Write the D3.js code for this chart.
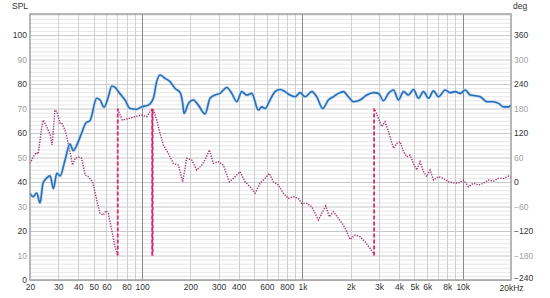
<!DOCTYPE html>
<html>
<head>
<meta charset="utf-8">
<script src="https://cdn.jsdelivr.net/npm/d3@7"></script>
<style>
body { margin: 0; background: #fff; }
text { font-family: "Liberation Sans", Arial, sans-serif; font-size: 8.5px; }
</style>
</head>
<body>
<script>
/* Datos: magnitud (dB) */
const splFreq = [20, 20.9, 22, 23.1, 24.1, 25.4, 26.7, 28, 29.4, 30.8, 33.1, 35.5, 37.3, 39.1, 42, 44.7, 47.3, 52.1, 54.7, 57.9,
  61.6, 64.7, 67.8, 72.9, 78.3, 84.1, 92.6, 99.5, 109.4, 117.6, 123.4, 129.4, 139.1, 149.4, 160.6, 172.5, 179.3, 182.7, 194.4, 208.8,
  224.4, 247.1, 265.5, 285.3, 306.5, 337.5, 362.5, 389.5, 418.5, 449.7, 483.2, 531.3, 557.9, 584.8, 628.4, 675.2, 725.5, 779.5, 837.5, 900,
  967, 1039, 1144, 1229, 1340, 1452, 1561, 1677, 1801, 1936, 2080, 2289, 2520, 2775, 2982, 3204, 3443, 3700, 3975, 4271,
  4589, 4931, 5298, 5693, 6116, 6572, 7062, 7776, 8355, 8977, 9645, 10364, 11135, 11965, 12855, 14154, 15560, 16720, 17965, 19300, 20000];
const splValues = [35.5, 34, 35.5, 31.5, 39.5, 41.6, 42.5, 37.3, 43.6, 42.5, 49, 55.5, 52.8, 55, 60, 64.2, 65, 74.2, 73.5, 70.5,
  74.8, 79.2, 78.6, 76, 73.5, 70, 69.7, 70.7, 71.4, 74.2, 81, 83.7, 82.3, 81, 78.2, 76.6, 72, 68, 72, 73.5,
  71.4, 67.8, 74.2, 75.5, 76.2, 78.6, 76.2, 72.8, 76.9, 75.5, 76.2, 69.4, 70.7, 70, 73.5, 76.9, 77.8, 76.9, 75.5, 74.8,
  76.5, 74.8, 76.9, 74.8, 70, 73.5, 74.8, 76.2, 76.9, 74.8, 72.8, 73.5, 75.5, 76.5, 76.2, 73.2, 76.2, 77.6, 73.5, 76.9,
  75.5, 77.8, 74.2, 76.9, 74.2, 77.2, 74.8, 77.6, 76.5, 76.9, 76.2, 77.6, 75.5, 75.2, 74.8, 72.8, 72.8, 72.1, 70.7, 70.7, 71.4];

/* Datos: fase (grados), null = salto de fase */
const phaseFreq = [20, 21, 21.8, 22.5, 23.7, 24.2, 25.4, 26.7, 27.5, 28.6, 29.4, 30.8, 31.5, 33.1, 33.9, 35.5, 36.9, 38.2, 40, 42,
  44.1, 46.2, 49.2, 52.1, 54.7, 57.3, 59.6, 61.6, 64.7, 67.8, 70.4, 70.5,
  70.6, 75.3, 82.1, 90.4, 99.5, 106.9, 114.9, 116, 117.6, 123.4, 129.4, 135.7, 145.8, 156.7, 168.4, 179.3, 189.9, 204.1,
  219.3, 235.6, 247.1, 262.8, 278.4, 299, 321.3, 350.3, 371, 408.5, 438.8, 471.5, 506.6, 544.4, 584.8, 622.2, 658.9, 707.9, 760.6, 817.3,
  878.2, 943.6, 990.8, 1065, 1144, 1258, 1321, 1399, 1473, 1561, 1677, 1801, 1891, 1983, 2131, 2289, 2460, 2643, 2775, 2800,
  2840, 2982, 3126, 3279, 3443, 3700, 3879, 4067, 4271, 4477, 4694, 4931, 5168, 5420, 5693, 5967, 6257, 6572, 7062, 7574,
  8138, 8745, 9395, 10095, 10846, 11654, 12520, 13455, 14454, 15560, 16720, 17965, 19300, 20000];
const phaseValues = [45.6, 61.8, 72, 69, 135.6, 151.8, 135.6, 115.2, 90.6, 176.4, 172.2, 144, 145.2, 127.2, 111, 74.4, 41.4, 58.2, 61.8, 58.2,
  17.4, 13.2, 0.6, -43.8, -76.8, -81, -70.2, -76.8, -117.6, -158.4, -178.8, null,
  178, 151.8, 155.4, 160.2, 163.8, 160.2, 178.2, null, 178, 151.8, 119.4, 90.6, 70.2, 45.6, 41.4, 0.6, 58.2, 54,
  29.4, 41.4, 54, 78.6, 45.6, 49.8, 41.4, 0.6, 9, 25.2, 0.6, -11.4, -27.6, -3, 9, 21, 0.6, -7.2, -27.6, -40.2,
  -36, -40.2, -52.2, -52.2, -60.6, -93, -76.8, -58.8, -85.2, -72.6, -88.8, -105.6, -121.8, -140.4, -129.6, -133.8, -146.4, -162.6, -174.6, null,
  176.4, 155.4, 135.6, 147.6, 123, 82.8, 94.8, 99, 74.4, 61.8, 66, 45.6, 29.4, 49.8, 25.2, 13.2, 29.4, 4.8, 13.2, 9,
  0.6, -1.8, -3, 4.8, -11.4, -3, -7.2, -3, 4.8, 2.4, 9, 9, 14.4, 11.4];

/* Saltos de fase (lineas verticales discontinuas) */
const wrapFreqs = [70.5, 115.6, 116.4, 2800];

/* Ticks */
const xTicks = [20, 30, 40, 50, 60, 80, 100, 200, 300, 400, 600, 800, 1000, 2000, 3000, 4000, 5000, 6000, 8000, 10000, 20000];
const xTickLabels = ["20", "30", "40", "50", "60", "80", "100", "200", "300", "400", "600", "800", "1k", "2k", "3k", "4k", "5k", "6k", "8k", "10k", "20kHz"];
const splTicks = [0, 10, 20, 30, 40, 50, 60, 70, 80, 90, 100];
const phaseTicks = [-240, -180, -120, -60, 0, 60, 120, 180, 240, 300, 360];

let width = 550;
let height = 298;
let margin = { top: 14, bottom: 18, left: 30, right: 39 };

/* Escalas */
let escalaX = d3.scaleLog()
                .domain([20, 20000])
                .range([margin.left, width - margin.right]);

let escalaY = d3.scaleLinear()
                .domain([0, 108.6])
                .range([height - margin.bottom, margin.top]);

let escalaFase = d3.scaleLinear()
                .domain([-240, 411.6])
                .range([height - margin.bottom, margin.top]);

let svg = d3.select("body")
            .append("svg")
            .attr("width", width)
            .attr("height", height);

/* Rejilla horizontal, cada 10 grados */
let minorY = d3.range(-240, 411, 10);
svg.append("g")
   .selectAll("line")
   .data(minorY)
   .join("line")
   .attr("x1", margin.left)
   .attr("x2", width - margin.right)
   .attr("y1", d => escalaFase(d) + 0.5)
   .attr("y2", d => escalaFase(d) + 0.5)
   .attr("stroke", d => (d % 60 === 0) ? "#c8c8c8" : "#e6e6e6")
   .attr("stroke-width", 1);

/* Rejilla vertical */
let gridX = [];
[10, 100, 1000, 10000].forEach(dec => {
    for (let m = 1; m <= 9; m++) {
        let f = dec * m;
        if (f > 20 && f < 20000) gridX.push(f);
    }
});
svg.append("g")
   .selectAll("line")
   .data(gridX)
   .join("line")
   .attr("x1", d => Math.round(escalaX(d)) + 0.5)
   .attr("x2", d => Math.round(escalaX(d)) + 0.5)
   .attr("y1", margin.top)
   .attr("y2", height - margin.bottom)
   .attr("stroke", d => [100, 1000, 10000].includes(d) ? "#8a8a8a" : "#cfcfcf")
   .attr("stroke-width", 1);

/* Fase */
let datosFase = phaseFreq.map((f, i) => ({ f: f, v: phaseValues[i] }));
let lineaFase = d3.line()
                  .defined(d => d.v !== null)
                  .x(d => escalaX(d.f))
                  .y(d => escalaFase(d.v));

svg.append("path")
   .datum(datosFase)
   .attr("d", lineaFase)
   .attr("fill", "none")
   .attr("stroke", "#a3336f")
   .attr("stroke-width", 1.4)
   .attr("stroke-dasharray", "1.3,1.3");

svg.append("g")
   .selectAll("line")
   .data(wrapFreqs)
   .join("line")
   .attr("x1", d => escalaX(d))
   .attr("x2", d => escalaX(d))
   .attr("y1", escalaFase(-180))
   .attr("y2", escalaFase(180))
   .attr("stroke", "#d42a72")
   .attr("stroke-width", 1.8)
   .attr("stroke-dasharray", "4,2")
   .attr("stroke-dashoffset", (d, i) => i === 2 ? 3 : 0);

/* Magnitud */
let datosSpl = splFreq.map((f, i) => ({ f: f, v: splValues[i] }));
let lineaSpl = d3.line()
                 .curve(d3.curveMonotoneX)
                 .x(d => escalaX(d.f))
                 .y(d => escalaY(d.v));

svg.append("path")
   .datum(datosSpl)
   .attr("d", lineaSpl)
   .attr("fill", "none")
   .attr("stroke", "#a9d0f2")
   .attr("stroke-width", 3.2)
   .attr("stroke-opacity", 0.7);

svg.append("path")
   .datum(datosSpl)
   .attr("d", lineaSpl)
   .attr("fill", "none")
   .attr("stroke", "#2b6db5")
   .attr("stroke-width", 1.6);

/* Marco */
svg.append("rect")
   .attr("x", margin.left)
   .attr("y", margin.top)
   .attr("width", width - margin.right - margin.left)
   .attr("height", height - margin.bottom - margin.top)
   .attr("fill", "none")
   .attr("stroke", "#a0a0a0")
   .attr("stroke-width", 1.5);

/* Ejes */
let ejeY = d3.axisLeft(escalaY).tickValues(splTicks).tickSize(0).tickPadding(3);
let gY = svg.append("g")
            .attr("transform", "translate(" + margin.left + ",0)")
            .call(ejeY);
gY.select(".domain").remove();
gY.selectAll("text")
  .attr("fill", d => (d % 20 === 0) ? "#333" : "#a0a0a0")
  .style("font-size", "8.5px")
  .style("font-family", "Liberation Sans, Arial, sans-serif");

let ejeFase = d3.axisRight(escalaFase).tickValues(phaseTicks).tickSize(0).tickPadding(3);
let gF = svg.append("g")
            .attr("transform", "translate(" + (width - margin.right) + ",0)")
            .call(ejeFase);
gF.select(".domain").remove();
gF.selectAll("text")
  .attr("fill", d => (d % 120 === 0) ? "#333" : "#a0a0a0")
  .style("font-size", "8.5px")
  .style("font-family", "Liberation Sans, Arial, sans-serif");
// -240 un poco mas arriba para no pisar "20kHz"
gF.selectAll("text").filter(d => d === -240).attr("dy", "0.1em");

let ejeX = d3.axisBottom(escalaX)
             .tickValues(xTicks)
             .tickFormat((d, i) => xTickLabels[i])
             .tickSize(0)
             .tickPadding(4);
let gX = svg.append("g")
            .attr("transform", "translate(0," + (height - margin.bottom) + ")")
            .call(ejeX);
gX.select(".domain").remove();
gX.selectAll("text")
  .attr("fill", "#333")
  .style("font-size", "8.5px")
  .style("font-family", "Liberation Sans, Arial, sans-serif");
gX.selectAll("text").filter(d => d === 20000).attr("dy", "0.85em");

svg.append("text")
   .attr("x", 12)
   .attr("y", 9)
   .attr("fill", "#333")
   .text("SPL");

svg.append("text")
   .attr("x", 513)
   .attr("y", 9)
   .attr("fill", "#333")
   .text("deg");
</script>
</body>
</html>
